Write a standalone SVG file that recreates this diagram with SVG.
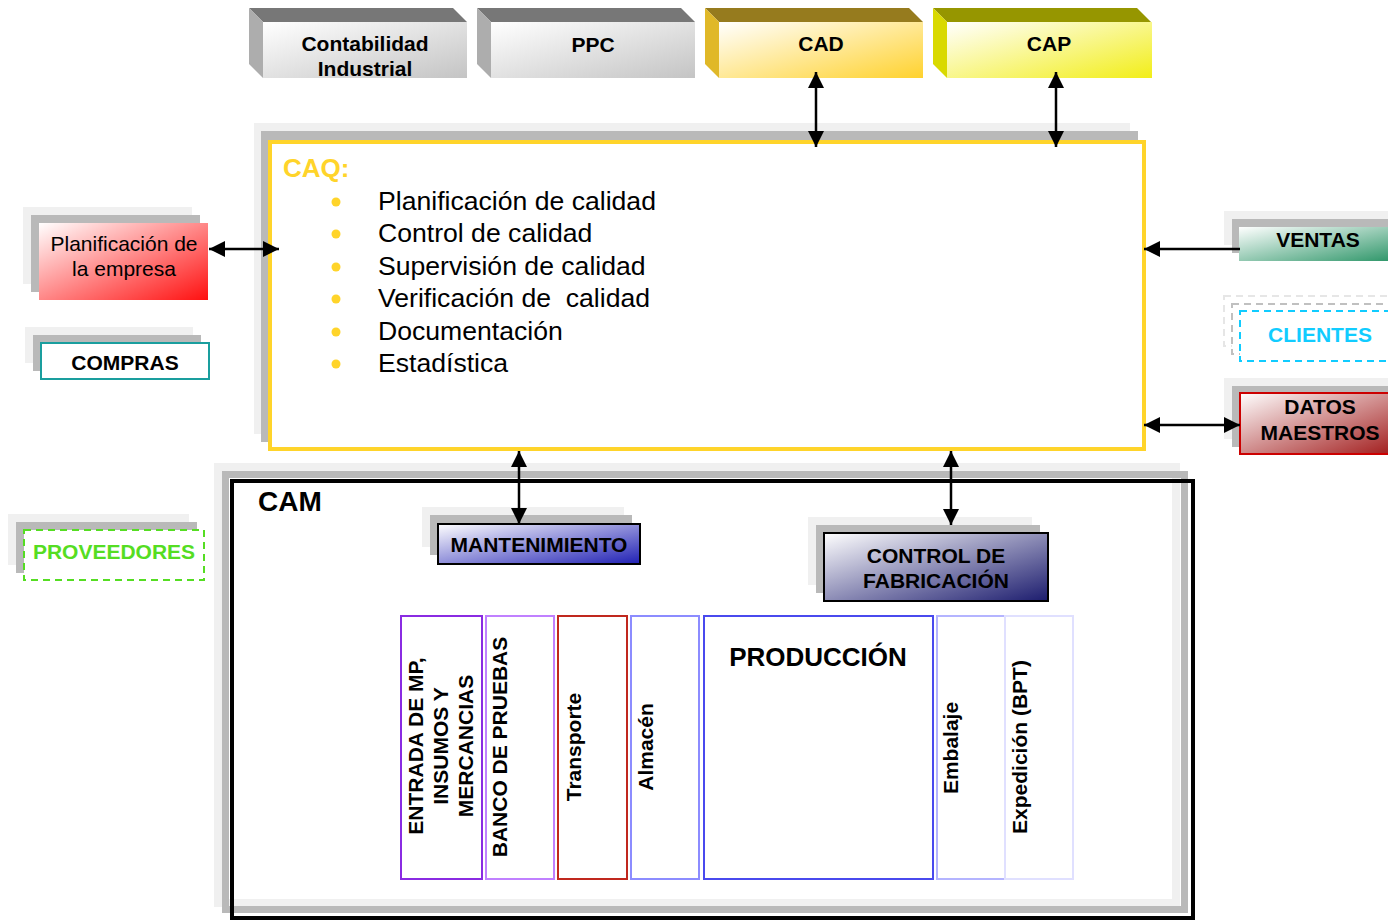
<svg xmlns="http://www.w3.org/2000/svg" width="1388" height="922" viewBox="0 0 1388 922">
<style>
text{font-family:"Liberation Sans",Arial,sans-serif;}
.lbl{font-weight:bold;font-size:21px;fill:#000;text-anchor:middle;}
.item{font-size:26.6px;fill:#000;white-space:pre;}
.vt{font-weight:bold;font-size:21px;fill:#000;text-anchor:middle;}
.sh1{fill:#f0f0f0;}
.sh2{fill:#b9b9b9;}
.conn{stroke:#000;stroke-width:2.5;fill:none;marker-start:url(#ah);marker-end:url(#ah);}
.col{fill:#fff;stroke-width:2;}
</style>
<defs>
<marker id="ah" markerUnits="userSpaceOnUse" markerWidth="16" markerHeight="16" refX="16" refY="8" orient="auto-start-reverse" viewBox="0 0 16 16">
<path d="M0,0 L16,8 L0,16 z" fill="#000"/>
</marker>
<linearGradient id="gGrey" x1="0" y1="0" x2="1" y2="1"><stop offset="0" stop-color="#ffffff"/><stop offset="1" stop-color="#c4c4c4"/></linearGradient>
<linearGradient id="gCad" x1="0" y1="0" x2="1" y2="1"><stop offset="0" stop-color="#ffffff"/><stop offset="1" stop-color="#ffd22e"/></linearGradient>
<linearGradient id="gCap" x1="0" y1="0" x2="1" y2="1"><stop offset="0" stop-color="#ffffff"/><stop offset="1" stop-color="#f2ee18"/></linearGradient>
<linearGradient id="gRed" x1="0" y1="0" x2="1" y2="1"><stop offset="0" stop-color="#ffffff"/><stop offset="1" stop-color="#ff1010"/></linearGradient>
<linearGradient id="gGreen" x1="0" y1="0" x2="1" y2="1"><stop offset="0" stop-color="#ffffff"/><stop offset="1" stop-color="#2a9466"/></linearGradient>
<linearGradient id="gDatos" x1="0" y1="0" x2="1" y2="1"><stop offset="0" stop-color="#ffffff"/><stop offset="1" stop-color="#a01818"/></linearGradient>
<linearGradient id="gMant" x1="0" y1="0" x2="1" y2="1"><stop offset="0" stop-color="#ffffff"/><stop offset="1" stop-color="#2020b4"/></linearGradient>
<linearGradient id="gCtrl" x1="0" y1="0" x2="1" y2="1"><stop offset="0" stop-color="#ffffff"/><stop offset="1" stop-color="#1c1c6e"/></linearGradient>
</defs>
<rect width="1388" height="922" fill="#fff"/>

<g id="contabilidad">
<polygon points="249,8 453,8 467,22 263,22" fill="#777"/>
<polygon points="249,8 263,22 263,78 249,64" fill="#adadad"/>
<rect x="263" y="22" width="204" height="56" fill="url(#gGrey)"/>
<text class="lbl" x="365" y="51">Contabilidad</text>
<text class="lbl" x="365" y="76">Industrial</text>
</g>
<g id="ppc">
<polygon points="477,8 681,8 695,22 491,22" fill="#777"/>
<polygon points="477,8 491,22 491,78 477,64" fill="#adadad"/>
<rect x="491" y="22" width="204" height="56" fill="url(#gGrey)"/>
<text class="lbl" x="593" y="52">PPC</text>
</g>
<g id="cad">
<polygon points="705,8 909,8 923,22 719,22" fill="#967b1e"/>
<polygon points="705,8 719,22 719,78 705,64" fill="#e0b828"/>
<rect x="719" y="22" width="204" height="56" fill="url(#gCad)"/>
<text class="lbl" x="821" y="51">CAD</text>
</g>
<g id="cap">
<polygon points="933,8 1137,8 1151,22 947,22" fill="#969600"/>
<polygon points="933,8 947,22 947,78 933,64" fill="#d9d900"/>
<rect x="947" y="22" width="205" height="56" fill="url(#gCap)"/>
<text class="lbl" x="1049" y="51">CAP</text>
</g>

<g id="caq">
<rect class="sh1" x="254" y="123" width="876" height="311"/>
<rect class="sh2" x="261" y="131" width="877" height="311"/>
<rect x="270" y="142" width="874" height="307" fill="#fff" stroke="#ffd42a" stroke-width="4"/>
<text x="283" y="177" font-weight="bold" font-size="26" fill="#ffd42a">CAQ:</text>
<g fill="#ffd42a">
<circle cx="336" cy="202" r="4.5"/><circle cx="336" cy="234" r="4.5"/><circle cx="336" cy="267" r="4.5"/>
<circle cx="336" cy="299" r="4.5"/><circle cx="336" cy="332" r="4.5"/><circle cx="336" cy="364" r="4.5"/>
</g>
<text class="item" x="378" y="210">Planificación de calidad</text>
<text class="item" x="378" y="242">Control de calidad</text>
<text class="item" x="378" y="275">Supervisión de calidad</text>
<text class="item" x="378" y="307" xml:space="preserve">Verificación de  calidad</text>
<text class="item" x="378" y="340">Documentación</text>
<text class="item" x="378" y="372">Estadística</text>
</g>

<g id="planificacion">
<rect class="sh1" x="23" y="207" width="169" height="77"/>
<rect class="sh2" x="31" y="215" width="169" height="77"/>
<rect x="39" y="223" width="169" height="77" fill="url(#gRed)"/>
<text x="124" y="251" font-size="21" text-anchor="middle">Planificación de</text>
<text x="124" y="276" font-size="21" text-anchor="middle">la empresa</text>
</g>
<g id="compras">
<rect class="sh1" x="25" y="327" width="168" height="36"/>
<rect class="sh2" x="33" y="335" width="168" height="36"/>
<rect x="41" y="343" width="168" height="36" fill="#fff" stroke="#1a9e9e" stroke-width="2"/>
<text class="lbl" x="125" y="370">COMPRAS</text>
</g>
<g id="proveedores">
<rect class="sh1" x="8" y="514" width="181" height="51"/>
<rect class="sh2" x="16" y="522" width="181" height="51"/>
<rect x="24" y="530" width="180" height="50" fill="#fff" stroke="#55dd22" stroke-width="2" stroke-dasharray="7,5"/>
<text class="lbl" x="114" y="559" style="fill:#55dd22">PROVEEDORES</text>
</g>

<g id="ventas">
<rect class="sh1" x="1224" y="211" width="170" height="34"/>
<rect class="sh2" x="1232" y="219" width="170" height="34"/>
<rect x="1239" y="227" width="160" height="34" fill="url(#gGreen)"/>
<text class="lbl" x="1318" y="247">VENTAS</text>
</g>
<g id="clientes">
<rect x="1224" y="296" width="180" height="50" fill="#fff" stroke="#e6e6e6" stroke-width="2" stroke-dasharray="7,5"/>
<rect x="1232" y="304" width="180" height="50" fill="#fff" stroke="#c0c0c0" stroke-width="2" stroke-dasharray="7,5"/>
<rect x="1240" y="311" width="180" height="50" fill="#fff" stroke="#11ccff" stroke-width="2" stroke-dasharray="7,5"/>
<text class="lbl" x="1320" y="342" style="fill:#11ccff">CLIENTES</text>
</g>
<g id="datos">
<rect class="sh1" x="1224" y="378" width="170" height="61"/>
<rect class="sh2" x="1232" y="386" width="170" height="61"/>
<rect x="1240" y="393" width="160" height="61" fill="url(#gDatos)" stroke="#cc0000" stroke-width="2"/>
<text class="lbl" x="1320" y="414">DATOS</text>
<text class="lbl" x="1320" y="440">MAESTROS</text>
</g>

<g id="cam">
<rect x="218" y="467" width="958" height="436" fill="none" stroke="#f0f0f0" stroke-width="8"/>
<rect x="225.5" y="474.5" width="959" height="435" fill="none" stroke="#b9b9b9" stroke-width="7"/>
<rect x="232" y="481" width="961" height="437" fill="none" stroke="#000" stroke-width="4"/>
<text x="258" y="511" font-weight="bold" font-size="28">CAM</text>
</g>

<g id="mantenimiento">
<rect class="sh1" x="422" y="507" width="202" height="40"/>
<rect class="sh2" x="430" y="515" width="202" height="40"/>
<rect x="438" y="524" width="202" height="40" fill="url(#gMant)" stroke="#000" stroke-width="2"/>
<text class="lbl" x="539" y="552">MANTENIMIENTO</text>
</g>
<g id="control">
<rect class="sh1" x="808" y="517" width="224" height="68"/>
<rect class="sh2" x="816" y="525" width="224" height="68"/>
<rect x="824" y="533" width="224" height="68" fill="url(#gCtrl)" stroke="#000" stroke-width="2"/>
<text class="lbl" x="936" y="563">CONTROL DE</text>
<text class="lbl" x="936" y="588">FABRICACIÓN</text>
</g>

<g id="entrada">
<rect class="col" x="401" y="616" width="81" height="263" stroke="#8a2be2"/>
<g transform="translate(0,746) rotate(-90)">
<text class="vt" x="0" y="423">ENTRADA DE MP,</text>
<text class="vt" x="0" y="448">INSUMOS Y</text>
<text class="vt" x="0" y="473">MERCANCIAS</text>
</g>
</g>
<g id="banco">
<rect class="col" x="486" y="616" width="68" height="263" stroke="#c080ff"/>
<text class="vt" transform="translate(507,747) rotate(-90)">BANCO DE PRUEBAS</text>
</g>
<g id="transporte">
<rect class="col" x="558" y="616" width="69" height="263" stroke="#c0281e"/>
<text class="vt" transform="translate(581,747) rotate(-90)">Transporte</text>
</g>
<g id="almacen">
<rect class="col" x="631" y="616" width="68" height="263" stroke="#8c8cff"/>
<text class="vt" transform="translate(653,747) rotate(-90)">Almacén</text>
</g>
<g id="produccion">
<rect class="col" x="704" y="616" width="229" height="263" stroke="#4a4aee"/>
<text x="818" y="666" font-weight="bold" font-size="26" text-anchor="middle">PRODUCCIÓN</text>
</g>
<g id="embalaje">
<rect class="col" x="937" y="616" width="68" height="263" stroke="#b4b4ff"/>
<text class="vt" transform="translate(958,748) rotate(-90)">Embalaje</text>
</g>
<g id="expedicion">
<rect class="col" x="1005" y="616" width="68" height="263" stroke="#e0e0ff"/>
<text class="vt" transform="translate(1027,747) rotate(-90)">Expedición (BPT)</text>
</g>

<g id="connectors">
<line class="conn" x1="816" y1="72" x2="816" y2="147"/>
<line class="conn" x1="1056" y1="72" x2="1056" y2="147"/>
<line class="conn" x1="209" y1="249" x2="279" y2="249"/>
<line x1="1240" y1="249" x2="1144" y2="249" stroke="#000" stroke-width="2.5" marker-end="url(#ah)"/>
<line class="conn" x1="1144" y1="425" x2="1240" y2="425"/>
<line class="conn" x1="519" y1="451" x2="519" y2="524"/>
<line class="conn" x1="951" y1="451" x2="951" y2="525"/>
</g>
</svg>
